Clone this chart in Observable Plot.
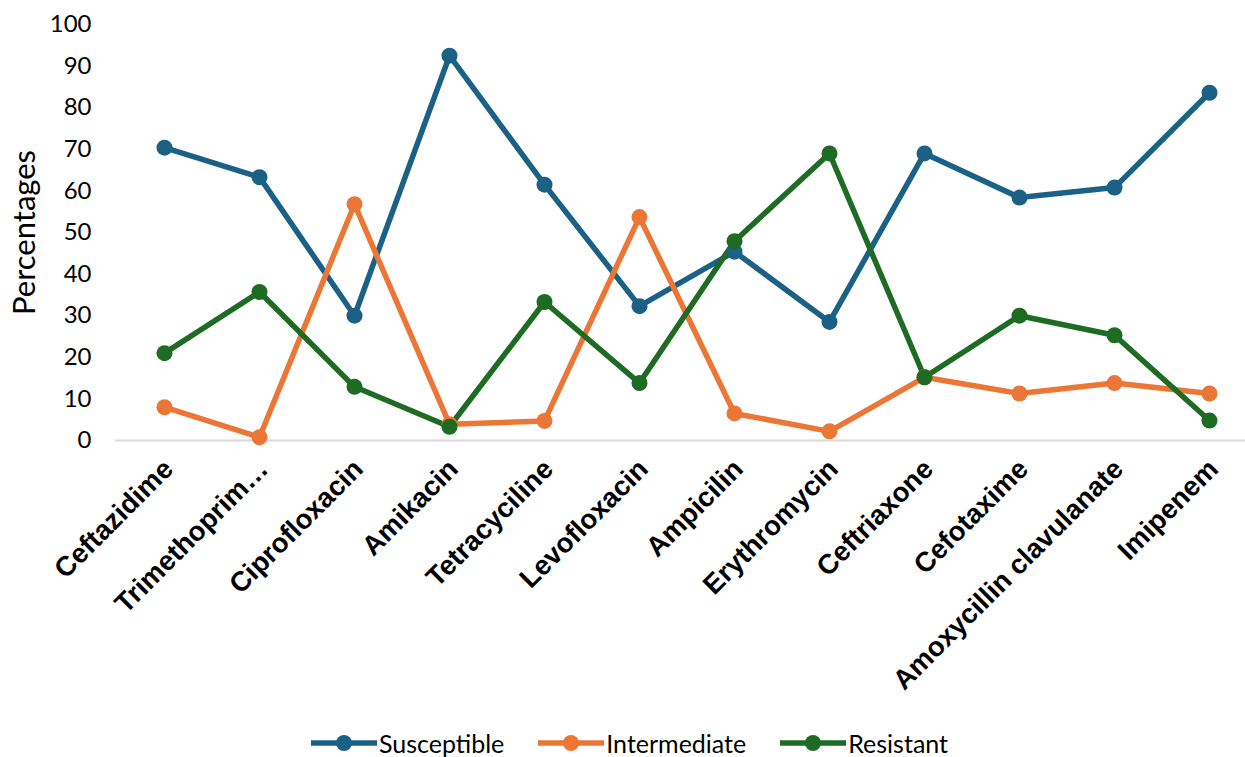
<!DOCTYPE html>
<html><head><meta charset="utf-8">
<script src="https://cdn.jsdelivr.net/npm/d3@7"></script>
<script src="https://cdn.jsdelivr.net/npm/@observablehq/plot@0.6"></script>
<style>
body{margin:0;background:#fff;}
#legend{display:flex;justify-content:center;align-items:center;height:35px;margin-top:3px;font-family:Lato,"Open Sans",sans-serif;font-size:25px;color:#000;padding-left:14px}
.item{display:flex;align-items:center;margin:0 17px;}
.item svg{margin-right:2px}
</style></head>
<body><div id="chart"></div><div id="legend"></div>
<script>
const categories = ["Ceftazidime","Trimethoprim…","Ciprofloxacin","Amikacin","Tetracyciline","Levofloxacin","Ampicilin","Erythromycin","Ceftriaxone","Cefotaxime","Amoxycillin clavulanate","Imipenem"];
const susceptible = [70.4, 63.3, 30.0, 92.5, 61.5, 32.3, 45.4, 28.5, 69.0, 58.4, 60.8, 83.6];
const intermediate = [8.0, 0.8, 56.8, 3.9, 4.7, 53.7, 6.5, 2.2, 15.2, 11.3, 13.8, 11.3];
const resistant = [21.0, 35.7, 12.9, 3.3, 33.3, 13.8, 47.9, 69.0, 15.2, 30.0, 25.3, 4.8];
const seriesNames = ["Susceptible","Intermediate","Resistant"];
const colors = ["#1b6186","#ec7636","#1e6b24"];
const yTicks = [0,10,20,30,40,50,60,70,80,90,100];

const data = [];
[susceptible, intermediate, resistant].forEach((vals, si) => {
  vals.forEach((v, i) => data.push({series: seriesNames[si], cat: categories[i], value: v}));
});

const chart = Plot.plot({
  width: 1245, height: 722,
  marginTop: 24, marginBottom: 282, marginLeft: 115, marginRight: 0,
  style: {fontFamily: "Lato, 'Open Sans', sans-serif", background: "#fff", color: "#000"},
  x: {type: "point", domain: categories, range: [162, 1210], padding: 0},
  y: {domain: [0, 100]},
  color: {domain: seriesNames, range: colors},
  marks: [
    Plot.ruleY([0], {stroke: "#d9d9d9", strokeWidth: 2}),
    Plot.axisY({ticks: yTicks, tickSize: 0, tickPadding: 24, fontSize: 24, label: "Percentages", labelAnchor: "center", labelArrow: "none", labelOffset: 103}),
    Plot.axisX({tickSize: 0, tickRotate: -45, tickPadding: 24, dx: 4, fontSize: 27.5, fontWeight: "bold", fontFamily: "'Liberation Sans', Arial, sans-serif", label: null}),
    Plot.line(data, {x: "cat", y: "value", z: "series", stroke: "series", strokeWidth: 5.5, curve: "linear"}),
    Plot.dot(data, {x: "cat", y: "value", fill: "series", r: 8})
  ]
});
chart.querySelectorAll("g[aria-label='y-axis label'] text").forEach(t => t.style.fontSize = "31px");
document.getElementById("chart").appendChild(chart);

const legend = document.getElementById("legend");
seriesNames.forEach((name, i) => {
  const item = document.createElement("div");
  item.className = "item";
  item.innerHTML = `<svg width="66" height="20"><line x1="0" y1="10" x2="66" y2="10" stroke="${colors[i]}" stroke-width="5.5"/><circle cx="33" cy="10" r="8" fill="${colors[i]}"/></svg><span>${name}</span>`;
  legend.appendChild(item);
});
</script></body></html>
